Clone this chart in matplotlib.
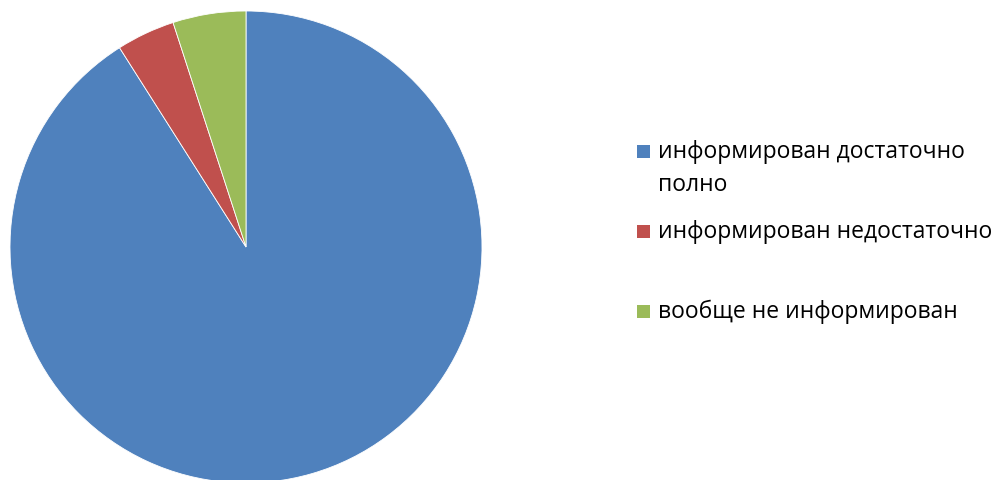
import matplotlib
matplotlib.use("Agg")
import matplotlib.pyplot as plt
from matplotlib.patches import Rectangle

labels = ["информирован достаточно\nполно", "информирован недостаточно", "вообще не информирован"]
values = [91, 4, 5]
colors = ["#4F81BD", "#C0504D", "#9BBB59"]

W, H = 997, 481
fig = plt.figure(figsize=(W / 100, H / 100), dpi=100)
plt.rcParams['font.family'] = ['Open Sans', 'DejaVu Sans']

# pie centre (246, 248) px, radius 236 px
cx, cy, r = 246, 248, 236
ax = fig.add_axes([(cx - r) / W, (H - cy - r) / H, 2 * r / W, 2 * r / H])
ax.pie(values, colors=colors, startangle=90, counterclock=False,
       wedgeprops=dict(edgecolor="white", linewidth=0.6))
ax.set_xlim(-1, 1)
ax.set_ylim(-1, 1)
ax.set_aspect("equal")
ax.axis("off")

# legend drawn by hand to follow the original layout
rows_y = [152, 232, 312]
for lab, col, y in zip(labels, colors, rows_y):
    fig.patches.append(Rectangle(((637) / W, (H - y - 6.5) / H), 13 / W, 13 / H,
                                 transform=fig.transFigure, facecolor=col,
                                 edgecolor="none"))
    fig.text(658 / W, (H - y) / H, lab.split("\n")[0], fontsize=16.5,
             va="center", ha="left", color="#000000")
    if "\n" in lab:
        fig.text(658 / W, (H - y - 33) / H, lab.split("\n")[1], fontsize=16.5,
                 va="center", ha="left", color="#000000")

fig.savefig("out.png", dpi=100)
